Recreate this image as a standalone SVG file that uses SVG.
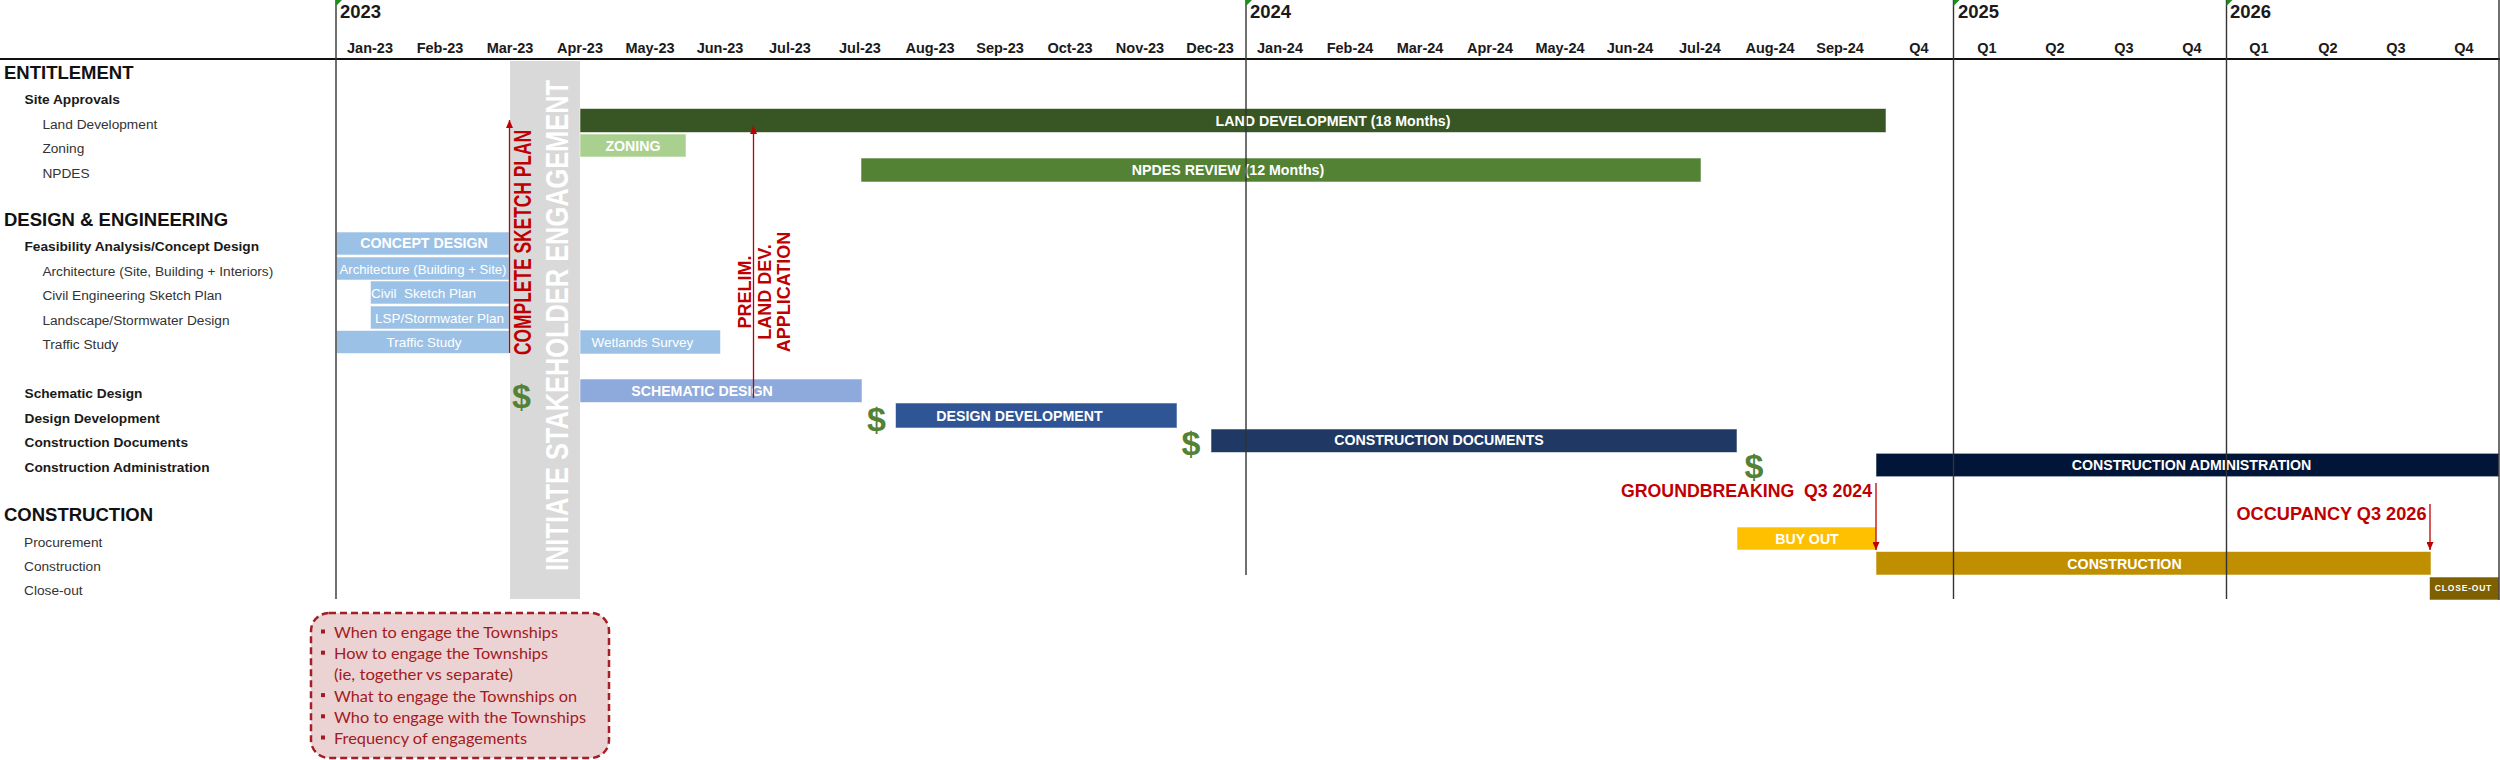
<svg xmlns="http://www.w3.org/2000/svg" width="2500" height="760" viewBox="0 0 2500 760">
<style>
text{font-family:"Liberation Sans",Arial,sans-serif}
.mo{font-weight:bold;font-size:14.5px;fill:#1a1a1a;text-anchor:middle}
.yr{font-weight:bold;font-size:18.5px;fill:#1a1a1a}
.sec{font-weight:bold;font-size:18.5px;fill:#111}
.sub{font-weight:bold;font-size:13.7px;fill:#1a1a1a}
.row{font-size:13.7px;fill:#333}
.bt{font-weight:bold;font-size:14.2px;fill:#fff;text-anchor:middle}
.lt{font-size:13.5px;fill:#fff}
.red{font-weight:bold;fill:#C00000}
.dol{font-weight:bold;font-size:34px;fill:#538135;text-anchor:middle}
.bar{stroke:#fff;stroke-opacity:.55;stroke-width:1}
.yl{stroke:#333;stroke-width:1.4}
.arr{stroke:#C00000;stroke-width:1.3;fill:none;marker-end:url(#ah)}
.note{font-family:Lato,"Liberation Sans",sans-serif;font-size:16px;fill:#A21A22}
.tri{fill:#1E8C1E}
</style>
<defs>
<marker id="ah" viewBox="0 0 8 7" refX="8" refY="3.5" markerWidth="8" markerHeight="7" markerUnits="userSpaceOnUse" orient="auto">
<path d="M0,0 L8,3.5 L0,7 z" fill="#C00000"/>
</marker>
</defs>
<rect x="0" y="0" width="2500" height="760" fill="#fff"/>

<g id="header">
<text class="yr" x="340" y="18">2023</text>
<text class="yr" x="1250" y="18">2024</text>
<text class="yr" x="1958" y="18">2025</text>
<text class="yr" x="2230" y="18">2026</text>
<text class="mo" x="370" y="53">Jan-23</text>
<text class="mo" x="440" y="53">Feb-23</text>
<text class="mo" x="510" y="53">Mar-23</text>
<text class="mo" x="580" y="53">Apr-23</text>
<text class="mo" x="650" y="53">May-23</text>
<text class="mo" x="720" y="53">Jun-23</text>
<text class="mo" x="790" y="53">Jul-23</text>
<text class="mo" x="860" y="53">Jul-23</text>
<text class="mo" x="930" y="53">Aug-23</text>
<text class="mo" x="1000" y="53">Sep-23</text>
<text class="mo" x="1070" y="53">Oct-23</text>
<text class="mo" x="1140" y="53">Nov-23</text>
<text class="mo" x="1210" y="53">Dec-23</text>
<text class="mo" x="1280" y="53">Jan-24</text>
<text class="mo" x="1350" y="53">Feb-24</text>
<text class="mo" x="1420" y="53">Mar-24</text>
<text class="mo" x="1490" y="53">Apr-24</text>
<text class="mo" x="1560" y="53">May-24</text>
<text class="mo" x="1630" y="53">Jun-24</text>
<text class="mo" x="1700" y="53">Jul-24</text>
<text class="mo" x="1770" y="53">Aug-24</text>
<text class="mo" x="1840" y="53">Sep-24</text>
<text class="mo" x="1919" y="53">Q4</text>
<text class="mo" x="1987" y="53">Q1</text>
<text class="mo" x="2055" y="53">Q2</text>
<text class="mo" x="2124" y="53">Q3</text>
<text class="mo" x="2192" y="53">Q4</text>
<text class="mo" x="2259" y="53">Q1</text>
<text class="mo" x="2328" y="53">Q2</text>
<text class="mo" x="2396" y="53">Q3</text>
<text class="mo" x="2464" y="53">Q4</text>
<line x1="0" y1="59" x2="2500" y2="59" stroke="#111" stroke-width="2.2"/>
</g>

<g id="row-labels">
<text id="lbl-entitlement" class="sec" x="4" y="78.5">ENTITLEMENT</text>
<text id="lbl-site" class="sub" x="24.5" y="104">Site Approvals</text>
<text id="lbl-landdev" class="row" x="42.4" y="128.5">Land Development</text>
<text id="lbl-zoning" class="row" x="42.4" y="153">Zoning</text>
<text id="lbl-npdes" class="row" x="42.4" y="177.5">NPDES</text>
<text id="lbl-design" class="sec" x="4" y="225.5">DESIGN &amp; ENGINEERING</text>
<text id="lbl-feas" class="sub" x="24.5" y="251">Feasibility Analysis/Concept Design</text>
<text id="lbl-arch" class="row" x="42.4" y="275.5">Architecture (Site, Building + Interiors)</text>
<text id="lbl-civil" class="row" x="42.4" y="300">Civil Engineering Sketch Plan</text>
<text id="lbl-land" class="row" x="42.4" y="324.5">Landscape/Stormwater Design</text>
<text id="lbl-traffic" class="row" x="42.4" y="349">Traffic Study</text>
<text id="lbl-sd" class="sub" x="24.5" y="398">Schematic Design</text>
<text id="lbl-dd" class="sub" x="24.5" y="422.5">Design Development</text>
<text id="lbl-cd" class="sub" x="24.5" y="447">Construction Documents</text>
<text id="lbl-ca" class="sub" x="24.5" y="472">Construction Administration</text>
<text id="lbl-construction" class="sec" x="4" y="521">CONSTRUCTION</text>
<text id="lbl-proc" class="row" x="24" y="546.5">Procurement</text>
<text id="lbl-cons" class="row" x="24" y="571">Construction</text>
<text id="lbl-close" class="row" x="24" y="595">Close-out</text>
</g>

<g id="stakeholder-band">
<rect x="510" y="61" width="70" height="538" fill="#D9D9D9"/>
<text transform="translate(568,325.5) rotate(-90)" text-anchor="middle" font-weight="bold" font-size="32" fill="#fff" textLength="491" lengthAdjust="spacingAndGlyphs">INITIATE STAKEHOLDER ENGAGEMENT</text>
</g>

<g id="bar-landdev"><rect class="bar" x="580" y="108.5" width="1306" height="24" fill="#375623"/><text class="bt" x="1333" y="125.7">LAND DEVELOPMENT (18 Months)</text></g>
<g id="bar-zoning"><rect class="bar" x="580" y="134" width="106" height="23" fill="#A9D08E"/><text class="bt" x="633" y="150.5">ZONING</text></g>
<g id="bar-npdes"><rect class="bar" x="861" y="158" width="840" height="24" fill="#548235"/><text class="bt" x="1228" y="175">NPDES REVIEW (12 Months)</text></g>

<g id="bar-concept"><rect class="bar" x="336.5" y="232" width="172.5" height="23" fill="#9BC2E6"/><text class="bt" x="424" y="248.3">CONCEPT DESIGN</text></g>
<g id="bar-arch"><rect class="bar" x="336.5" y="257" width="172.5" height="23" fill="#9BC2E6"/><text class="lt" x="423" y="274" text-anchor="middle" textLength="167" lengthAdjust="spacingAndGlyphs">Architecture (Building + Site)</text></g>
<g id="bar-civil"><rect class="bar" x="370.5" y="281" width="138.5" height="23" fill="#9BC2E6"/><text class="lt" x="371" y="298" style="white-space:pre">Civil  Sketch Plan</text></g>
<g id="bar-lsp"><rect class="bar" x="370.5" y="306" width="138.5" height="23" fill="#9BC2E6"/><text class="lt" x="375" y="322.5">LSP/Stormwater Plan</text></g>
<g id="bar-traffic"><rect class="bar" x="336.5" y="330.5" width="172.5" height="23" fill="#9BC2E6"/><text class="lt" x="424" y="347" text-anchor="middle">Traffic Study</text></g>
<g id="bar-wetlands"><rect class="bar" x="580" y="330" width="140.5" height="24" fill="#9BC2E6"/><text class="lt" x="591.5" y="347">Wetlands Survey</text></g>

<g id="bar-sd"><rect class="bar" x="580" y="379" width="282" height="23.5" fill="#8EA9DB"/><text class="bt" x="702" y="396">SCHEMATIC DESIGN</text></g>
<g id="bar-dd"><rect class="bar" x="895.5" y="403" width="281.5" height="25" fill="#2F5597"/><text class="bt" x="1019.5" y="421">DESIGN DEVELOPMENT</text></g>
<g id="bar-cd"><rect class="bar" x="1211" y="429" width="526" height="23.5" fill="#203864"/><text class="bt" x="1439" y="445.3">CONSTRUCTION DOCUMENTS</text></g>
<g id="bar-ca"><rect class="bar" x="1876" y="453.3" width="623" height="23.4" fill="#011538"/><text class="bt" x="2191.5" y="470">CONSTRUCTION ADMINISTRATION</text></g>

<g id="bar-buyout"><rect class="bar" x="1737" y="527" width="139" height="23" fill="#FFC000"/><text class="bt" x="1807" y="544">BUY OUT</text></g>
<g id="bar-construction"><rect class="bar" x="1876" y="551.5" width="555" height="23.5" fill="#BF8F00"/><text class="bt" x="2124.5" y="569">CONSTRUCTION</text></g>
<g id="bar-closeout"><rect class="bar" x="2429.5" y="577" width="69.5" height="23" fill="#7F6000"/><text x="2463.5" y="591" text-anchor="middle" font-weight="bold" font-size="8.5" fill="#fff" letter-spacing="0.8">CLOSE-OUT</text></g>

<g id="year-lines">
<line class="yl" x1="336" y1="0" x2="336" y2="599"/>
<line class="yl" x1="1246" y1="0" x2="1246" y2="575"/>
<line class="yl" x1="1953.5" y1="0" x2="1953.5" y2="599"/>
<line class="yl" x1="2226.5" y1="0" x2="2226.5" y2="599"/>
<line class="yl" x1="2499" y1="0" x2="2499" y2="600"/>
<path class="tri" d="M336,0 L342,0 L336,6 z"/>
<path class="tri" d="M1246,0 L1252,0 L1246,6 z"/>
<path class="tri" d="M1953.5,0 L1959.5,0 L1953.5,6 z"/>
<path class="tri" d="M2226.5,0 L2232.5,0 L2226.5,6 z"/>
</g>

<g id="payments">
<text class="dol" x="521.5" y="408">$</text>
<text class="dol" x="876.5" y="430.5">$</text>
<text class="dol" x="1191" y="455">$</text>
<text class="dol" x="1754" y="478">$</text>
</g>

<g id="milestone-sketch">
<text class="red" transform="translate(531,242.5) rotate(-90)" text-anchor="middle" font-size="23" textLength="225" lengthAdjust="spacingAndGlyphs">COMPLETE SKETCH PLAN</text>
</g>
<g id="milestone-prelim">
<text class="red" transform="translate(750.5,292) rotate(-90)" text-anchor="middle" font-size="18">PRELIM.</text>
<text class="red" transform="translate(770.5,292) rotate(-90)" text-anchor="middle" font-size="18">LAND DEV.</text>
<text class="red" transform="translate(790,292) rotate(-90)" text-anchor="middle" font-size="18">APPLICATION</text>
</g>
<g id="milestone-groundbreaking">
<text class="red" x="1872" y="497" text-anchor="end" font-size="19" textLength="251" lengthAdjust="spacingAndGlyphs" style="white-space:pre">GROUNDBREAKING  Q3 2024</text>
</g>
<g id="milestone-occupancy">
<text class="red" x="2426.5" y="519.5" text-anchor="end" font-size="18.5" textLength="190" lengthAdjust="spacingAndGlyphs">OCCUPANCY Q3 2026</text>
</g>

<g id="connectors">
<path class="arr" d="M509.5,353 L509.5,120"/>
<path class="arr" d="M753.5,398 L753.5,126"/>
<path class="arr" d="M1876,483 L1876,550"/>
<path class="arr" d="M2430,504 L2430,550"/>
</g>

<g id="note-engagement">
<rect x="311" y="613" width="298" height="145" rx="18" ry="18" fill="#EBD3D4" stroke="#A31F25" stroke-width="2.5" stroke-dasharray="7 4"/>
<g fill="#A21A22">
<rect x="321" y="629.5" width="4" height="4"/>
<rect x="321" y="650.7" width="4" height="4"/>
<rect x="321" y="693.1" width="4" height="4"/>
<rect x="321" y="714.3" width="4" height="4"/>
<rect x="321" y="735.5" width="4" height="4"/>
</g>
<text class="note" x="334" y="638" textLength="224" lengthAdjust="spacingAndGlyphs">When to engage the Townships</text>
<text class="note" x="334" y="659.2" textLength="214" lengthAdjust="spacingAndGlyphs">How to engage the Townships</text>
<text class="note" x="334" y="680.4" textLength="179" lengthAdjust="spacingAndGlyphs">(ie, together vs separate)</text>
<text class="note" x="334" y="701.6" textLength="243" lengthAdjust="spacingAndGlyphs">What to engage the Townships on</text>
<text class="note" x="334" y="722.8" textLength="252" lengthAdjust="spacingAndGlyphs">Who to engage with the Townships</text>
<text class="note" x="334" y="744" textLength="193" lengthAdjust="spacingAndGlyphs">Frequency of engagements</text>
</g>
</svg>
